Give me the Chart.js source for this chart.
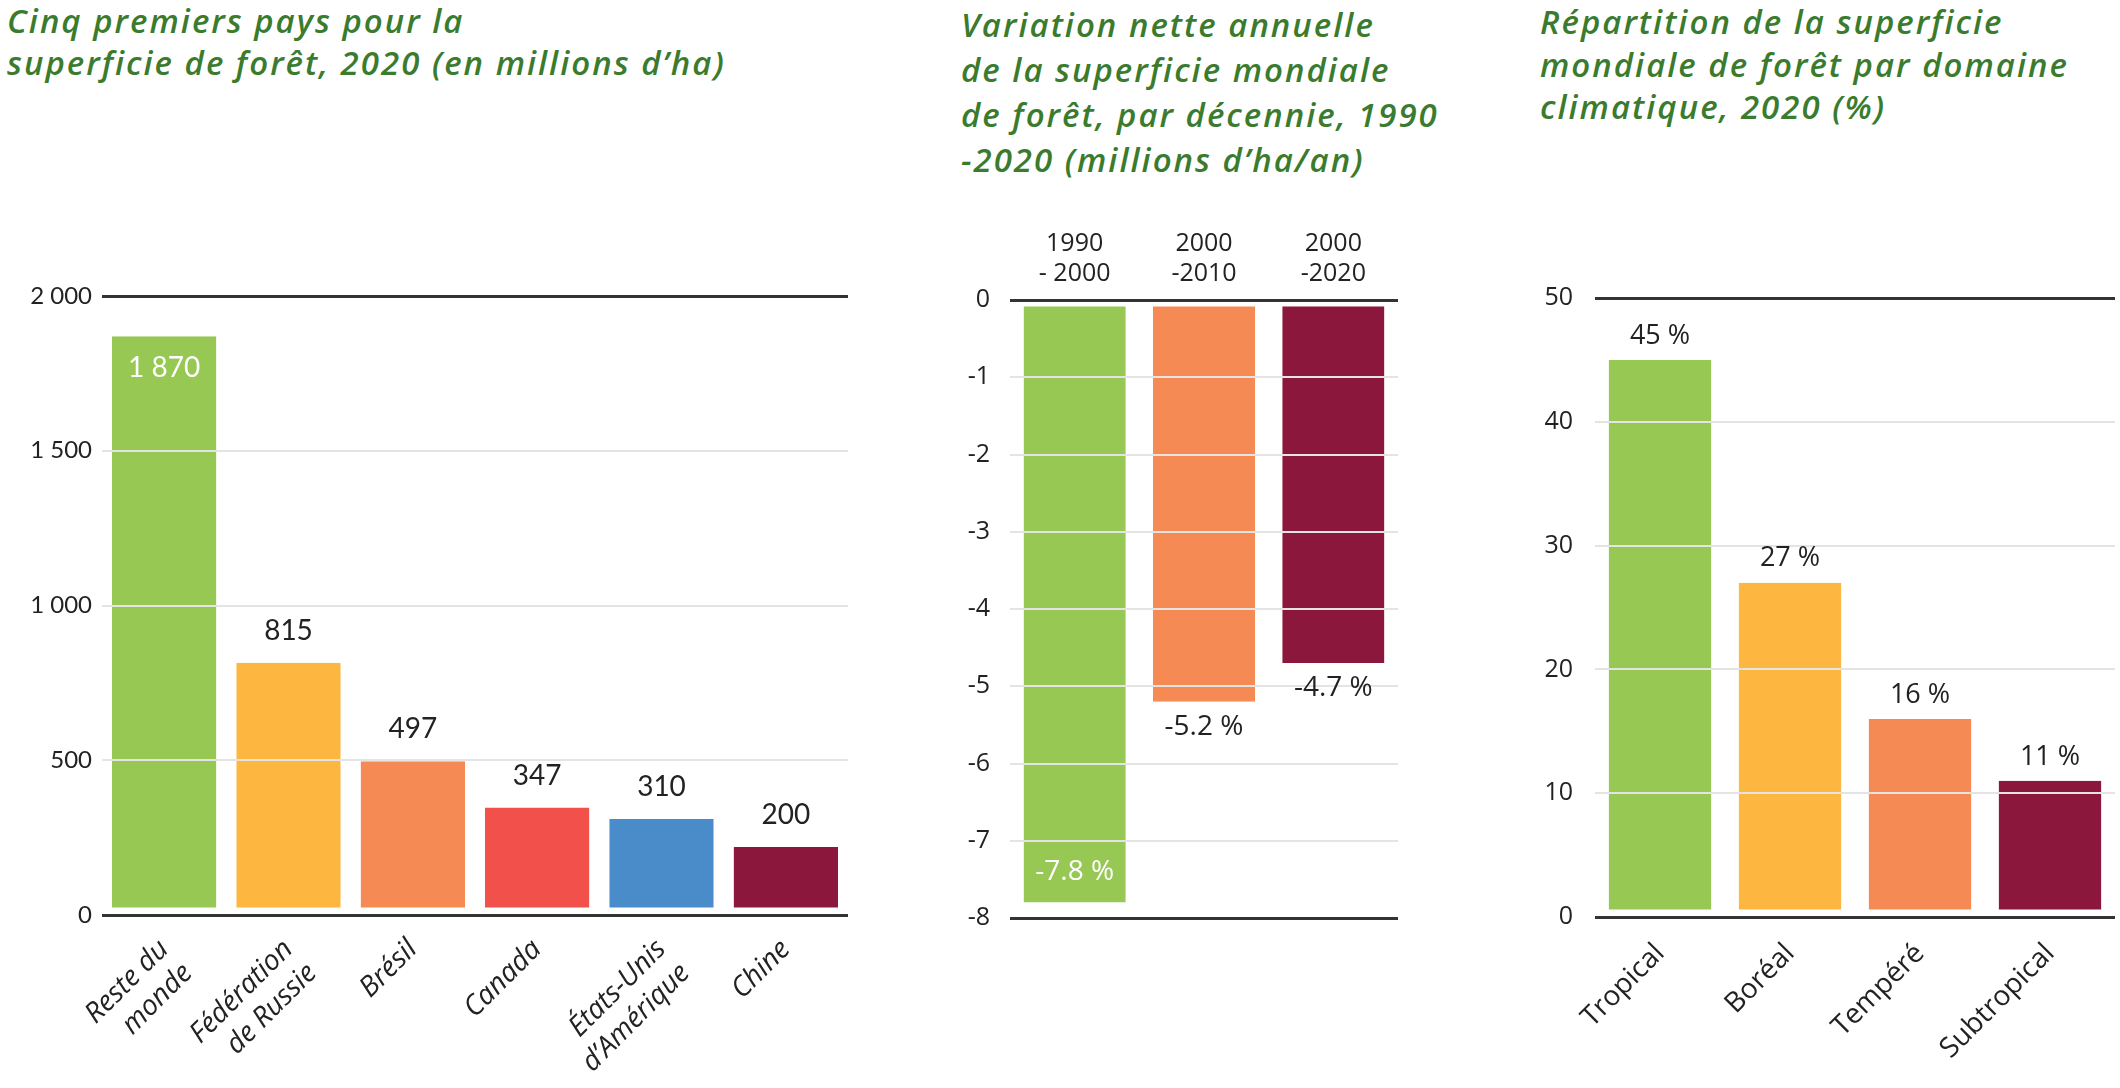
<!DOCTYPE html>
<html lang="fr">
<head>
<meta charset="utf-8">
<title>Forêts du monde</title>
<script src="https://cdn.jsdelivr.net/npm/chart.js@4.4.1/dist/chart.umd.min.js"></script>
<style>
  body { margin: 0; width: 2120px; height: 1088px; background: #fff; position: relative; overflow: hidden; }
  .title {
    position: absolute; color: #3b7b2e; white-space: nowrap;
    font-family: "Open Sans", sans-serif; font-style: italic; font-weight: 600;
    font-size: 33px; line-height: 42px; letter-spacing: 2px;
  }
  .box { position: absolute; }
</style>
</head>
<body>

<div class="title" style="left:7px; top:0">Cinq premiers pays pour la<br>superficie de forêt, 2020 (en millions d’ha)</div>
<div class="title" style="left:961px; top:2px; line-height:45px">Variation nette annuelle<br>de la superficie mondiale<br>de forêt, par décennie, 1990<br>-2020 (millions d’ha/an)</div>
<div class="title" style="left:1540px; top:1px; line-height:42.5px">Répartition de la superficie<br>mondiale de forêt par domaine<br>climatique, 2020 (%)</div>

<div class="box" style="left:0; top:250px; width:860px; height:838px"><canvas id="countries"></canvas></div>
<div class="box" style="left:940px; top:200px; width:480px; height:753px"><canvas id="change"></canvas></div>
<div class="box" style="left:1500px; top:250px; width:620px; height:838px"><canvas id="domains"></canvas></div>

<script>
// --- data ---
const countries = [['Reste du', 'monde'], ['Fédération', 'de Russie'], 'Brésil', 'Canada', ['États-Unis', 'd’Amérique'], 'Chine'];
const countryArea = [1870, 815, 497, 347, 310, 220];
const countryLabels = ['1 870', '815', '497', '347', '310', '200'];

const decades = [['1990', '- 2000'], ['2000', '-2010'], ['2000', '-2020']];
const netChange = [-7.8, -5.2, -4.7];
const changeLabels = ['-7.8 %', '-5.2 %', '-4.7 %'];

const domains = ['Tropical', 'Boréal', 'Tempéré', 'Subtropical'];
const domainShare = [45, 27, 16, 11];
const domainLabels = ['45 %', '27 %', '16 %', '11 %'];

const GREEN = '#97c853', YELLOW = '#fdb741', ORANGE = '#f68a55', RED = '#f2504b', BLUE = '#4a8bca', MAROON = '#8b173d';
const INK = '#222';
const SANS = '"Open Sans", sans-serif';

// draws the value text at the end of each bar (outside, or inside for listed indexes)
const valueLabels = {
  id: 'valueLabels',
  afterDraw(chart, args, opts) {
    const ctx = chart.ctx;
    ctx.save();
    ctx.font = opts.font;
    ctx.textAlign = 'center';
    ctx.textBaseline = 'middle';
    chart.getDatasetMeta(0).data.forEach((bar, i) => {
      const out = bar.y < bar.base ? -1 : 1;
      const inside = opts.inside.includes(i);
      ctx.fillStyle = inside ? '#fff' : INK;
      const y = inside ? bar.y - out * opts.offIn : bar.y + out * opts.offOut;
      ctx.fillText(opts.texts[i], bar.x, y);
    });
    ctx.restore();
  }
};

function spaced(v) {
  return String(v).replace(/\B(?=(\d{3})+(?!\d))/g, ' ');
}

function gridFor(min, max) {
  const edge = c => c.tick && (c.tick.value === min || c.tick.value === max);
  return {
    z: 1,
    drawTicks: false,
    color: c => edge(c) ? '#333' : '#e4e4e4',
    lineWidth: c => edge(c) ? 3 : 2
  };
}

Chart.defaults.font.family = 'Lato, sans-serif';
Chart.defaults.color = INK;
Chart.defaults.animation = false;

new Chart(document.getElementById('countries'), {
  type: 'bar',
  data: {
    labels: countries,
    datasets: [{
      data: countryArea,
      backgroundColor: [GREEN, YELLOW, ORANGE, RED, BLUE, MAROON],
      borderColor: '#fff',
      borderWidth: { top: 0, left: 0, right: 0, bottom: 6 },
      borderSkipped: false,
      categoryPercentage: 1,
      barPercentage: 0.84
    }]
  },
  plugins: [valueLabels],
  options: {
    responsive: true,
    maintainAspectRatio: false,
    layout: { padding: { top: 46, right: 12, left: 0, bottom: 0 } },
    plugins: {
      legend: { display: false },
      tooltip: { enabled: false },
      valueLabels: { texts: countryLabels, inside: [0], offOut: 32, offIn: 32, font: '28px Lato' }
    },
    scales: {
      x: {
        grid: { display: false },
        border: { display: false },
        ticks: { autoSkip: false, minRotation: 45, maxRotation: 45, padding: 10, color: INK,
                 font: { family: SANS, size: 28, style: 'italic' } },
        afterFit: s => { s.height = 173; }
      },
      y: {
        min: 0, max: 2000,
        grid: gridFor(0, 2000),
        border: { display: false },
        ticks: { stepSize: 500, padding: 10, color: INK, font: { size: 24 }, callback: v => spaced(v) },
        afterFit: s => { s.width = 102; }
      }
    }
  }
});

new Chart(document.getElementById('change'), {
  type: 'bar',
  data: {
    labels: decades,
    datasets: [{
      data: netChange,
      backgroundColor: [GREEN, ORANGE, MAROON],
      borderColor: '#fff',
      borderWidth: { top: 5, left: 0, right: 0, bottom: 0 },
      borderSkipped: false,
      categoryPercentage: 1,
      barPercentage: 0.79
    }]
  },
  plugins: [valueLabels],
  options: {
    responsive: true,
    maintainAspectRatio: false,
    layout: { padding: { top: 0, right: 22, left: 0, bottom: 8 } },
    plugins: {
      legend: { display: false },
      tooltip: { enabled: false },
      valueLabels: { texts: changeLabels, inside: [0], offOut: 25, offIn: 31, font: '28px ' + SANS }
    },
    scales: {
      x: {
        position: 'top',
        grid: { display: false },
        border: { display: false },
        ticks: { autoSkip: false, maxRotation: 0, padding: 3, color: INK, font: { family: SANS, size: 25 } },
        afterFit: s => { s.height = 100; }
      },
      y: {
        min: -8, max: 0,
        grid: gridFor(-8, 0),
        border: { display: false },
        ticks: { stepSize: 1, padding: 20, color: INK, font: { family: SANS, size: 25 }, callback: v => String(v) },
        afterFit: s => { s.width = 70; }
      }
    }
  }
});

new Chart(document.getElementById('domains'), {
  type: 'bar',
  data: {
    labels: domains,
    datasets: [{
      data: domainShare,
      backgroundColor: [GREEN, YELLOW, ORANGE, MAROON],
      borderColor: '#fff',
      borderWidth: { top: 0, left: 0, right: 0, bottom: 6 },
      borderSkipped: false,
      categoryPercentage: 1,
      barPercentage: 0.79
    }]
  },
  plugins: [valueLabels],
  options: {
    responsive: true,
    maintainAspectRatio: false,
    layout: { padding: { top: 48, right: 5, left: 0, bottom: 0 } },
    plugins: {
      legend: { display: false },
      tooltip: { enabled: false },
      valueLabels: { texts: domainLabels, inside: [], offOut: 24, offIn: 0, font: '27px ' + SANS }
    },
    scales: {
      x: {
        grid: { display: false },
        border: { display: false },
        ticks: { autoSkip: false, minRotation: 45, maxRotation: 45, padding: 12, color: INK,
                 font: { family: SANS, size: 28 } },
        afterFit: s => { s.height = 171; }
      },
      y: {
        min: 0, max: 50,
        grid: gridFor(0, 50),
        border: { display: false },
        ticks: { stepSize: 10, padding: 22, color: INK, font: { family: SANS, size: 25 } },
        afterFit: s => { s.width = 95; }
      }
    }
  }
});
</script>
</body>
</html>
